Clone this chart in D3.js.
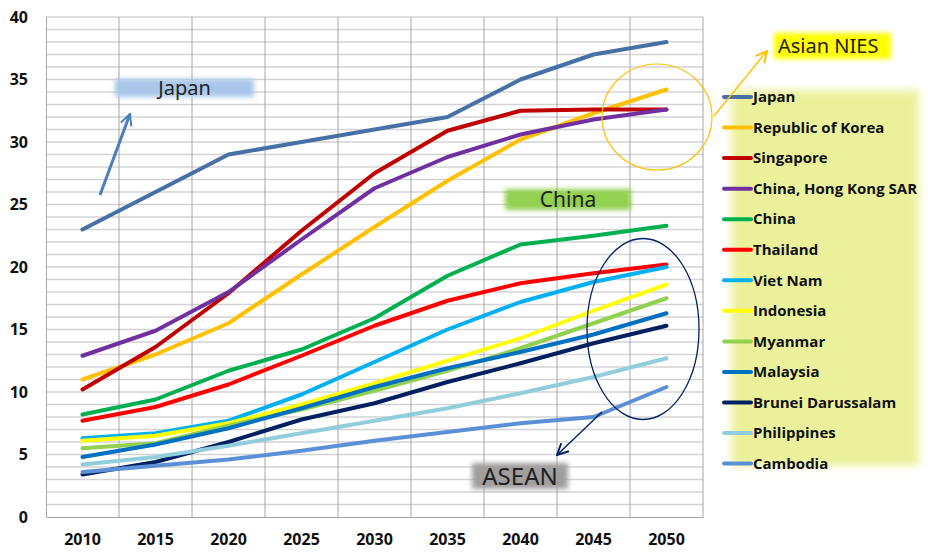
<!DOCTYPE html>
<html><head><meta charset="utf-8">
<script src="https://cdn.jsdelivr.net/npm/d3@7"></script>
<style>body{margin:0;background:#fff}svg{display:block}</style>
</head><body>
<svg id="c" width="928" height="552"></svg>
<script>
const years = ["2010","2015","2020","2025","2030","2035","2040","2045","2050"];
const yTicks = [0,5,10,15,20,25,30,35,40];
const seriesNames = ["Japan","Republic of Korea","Singapore","China, Hong Kong SAR","China","Thailand","Viet Nam","Indonesia","Myanmar","Malaysia","Brunei Darussalam","Philippines","Cambodia"];
const seriesColors = ["#4670a6","#ffc000","#c00000","#7030a0","#00b050","#ff0000","#00b0f0","#ffff00","#92d050","#0070c0","#002060","#92cddc","#5b8fd6"];
const japan = [23, 26, 29, 30, 31, 32, 35, 37, 38];
const korea = [11, 13, 15.5, 19.4, 23.2, 26.9, 30.2, 32.3, 34.2];
const singapore = [10.2, 13.6, 17.9, 22.9, 27.5, 30.9, 32.5, 32.6, 32.6];
const hongKong = [12.9, 14.9, 18.0, 22.2, 26.3, 28.8, 30.6, 31.8, 32.6];
const china = [8.2, 9.4, 11.7, 13.4, 15.9, 19.3, 21.8, 22.5, 23.3];
const thailand = [7.7, 8.8, 10.6, 12.9, 15.3, 17.3, 18.7, 19.5, 20.2];
const vietNam = [6.3, 6.7, 7.7, 9.8, 12.4, 15.0, 17.2, 18.8, 20.0];
const indonesia = [6.1, 6.5, 7.5, 9.0, 10.7, 12.5, 14.3, 16.5, 18.6];
const myanmar = [5.5, 5.9, 7.3, 8.6, 10.1, 11.7, 13.5, 15.5, 17.5];
const malaysia = [4.8, 5.8, 7.1, 8.7, 10.4, 11.9, 13.2, 14.6, 16.3];
const brunei = [3.4, 4.4, 6.0, 7.8, 9.1, 10.8, 12.3, 13.9, 15.3];
const philippines = [4.2, 4.8, 5.7, 6.7, 7.7, 8.7, 9.9, 11.2, 12.7];
const cambodia = [3.6, 4.1, 4.6, 5.3, 6.1, 6.8, 7.5, 8.0, 10.4];
const seriesValues = [japan, korea, singapore, hongKong, china, thailand, vietNam, indonesia, myanmar, malaysia, brunei, philippines, cambodia];

const svg = d3.select("#c");
const pLeft = 46, pRight = 703, pTop = 17, pBottom = 517;
const x = d3.scaleBand().domain(years).range([pLeft, pRight]);
const y = d3.scaleLinear().domain([0, 40]).range([pBottom, pTop]);

const defs = svg.append("defs");
defs.append("filter").attr("id","blur").attr("x","-20%").attr("y","-30%").attr("width","140%").attr("height","160%")
  .append("feGaussianBlur").attr("stdDeviation", 2.5);
defs.append("filter").attr("id","blurL").attr("x","-10%").attr("y","-10%").attr("width","120%").attr("height","120%")
  .append("feGaussianBlur").attr("stdDeviation", 4);
function marker(id, color){
  defs.append("marker").attr("id", id).attr("viewBox","0 0 10 10").attr("refX",9).attr("refY",5)
    .attr("orient","auto").attr("markerUnits","userSpaceOnUse")
    .attr("markerWidth",14).attr("markerHeight",14)
    .append("path").attr("d","M1,1 L9,5 L1,9").attr("fill","none").attr("stroke",color).attr("stroke-width",1.4);
}
marker("aJ","#4a7ebb"); marker("aO","#ffc000"); marker("aN","#002060");

// legend background
svg.append("rect").attr("x",731).attr("y",90).attr("width",188).attr("height",376)
  .attr("fill","#ebf19b").attr("filter","url(#blurL)");

// horizontal gridlines
const g = svg.append("g");
g.selectAll(".hg").data(d3.range(1, 41)).join("line")
  .attr("x1", pLeft).attr("x2", pRight).attr("y1", d => y(d)).attr("y2", d => y(d))
  .attr("stroke", "#d3d3d3").attr("stroke-width", 1.7);
// vertical gridlines at band boundaries
g.selectAll(".vg").data(years).join("line")
  .attr("x1", (d,i) => pLeft + x.step()*(i+1)).attr("x2", (d,i) => pLeft + x.step()*(i+1))
  .attr("y1", pTop).attr("y2", pBottom).attr("stroke", "#a6a6a6").attr("stroke-width", 1);

// axes
const yAxis = svg.append("g").attr("transform", `translate(${pLeft},0)`)
  .call(d3.axisLeft(y).tickValues(yTicks).tickSize(0).tickPadding(18));
yAxis.select(".domain").attr("stroke","#a6a6a6");
yAxis.selectAll("text").attr("font-family","'Open Sans', sans-serif").attr("font-weight","bold").attr("font-size",16).attr("fill","#111");
const xAxis = svg.append("g").attr("transform", `translate(0,${pBottom})`)
  .call(d3.axisBottom(x).tickSize(0).tickPadding(17));
xAxis.select(".domain").attr("stroke","#a6a6a6");
xAxis.selectAll("text").attr("font-family","'Open Sans', sans-serif").attr("font-weight","bold").attr("font-size",16).attr("fill","#111");

// lines
const line = d3.line().x((d,i) => x(years[i]) + x.bandwidth()/2).y(d => y(d));
svg.append("g").selectAll("path").data(seriesValues).join("path")
  .attr("d", line).attr("fill","none").attr("stroke", (d,i) => seriesColors[i])
  .attr("stroke-width", 4).attr("stroke-linecap","round").attr("stroke-linejoin","round");

// legend
const lg = svg.append("g");
seriesNames.forEach((n, i) => {
  const yy = 97 + i * 30.55;
  lg.append("line").attr("x1",724).attr("x2",751).attr("y1",yy).attr("y2",yy)
    .attr("stroke",seriesColors[i]).attr("stroke-width",4).attr("stroke-linecap","round");
  lg.append("text").attr("x",753).attr("y",yy).attr("dy","0.35em").text(n)
    .attr("font-family","'Open Sans', sans-serif").attr("font-weight","bold").attr("font-size",15).attr("fill","#111");
});

// annotations
function label(x0, y0, w, h, fill, txt, fs, tx){
  svg.append("rect").attr("x",x0).attr("y",y0).attr("width",w).attr("height",h).attr("fill",fill).attr("filter","url(#blur)");
  svg.append("text").attr("x", tx === undefined ? x0 + w/2 : tx).attr("y", y0 + h/2).attr("dy","0.36em")
    .attr("text-anchor", tx === undefined ? "middle" : "start")
    .attr("font-family","'Noto Sans', sans-serif").attr("font-size",fs).attr("fill","#222").text(txt);
}
label(115, 79, 139, 18, "#a9c7ea", "Japan", 20);
label(505, 189, 126, 21, "#92d050", "China", 21);
label(472, 463, 96, 26, "#a09e9e", "ASEAN", 24);
label(774, 33, 117, 26, "#ffff00", "Asian NIES", 20, 778);

svg.append("line").attr("x1",100).attr("y1",195).attr("x2",130).attr("y2",114)
  .attr("stroke","#4a7ebb").attr("stroke-width",3).attr("marker-end","url(#aJ)");
svg.append("ellipse").attr("cx",657).attr("cy",117).attr("rx",55).attr("ry",53)
  .attr("fill","none").attr("stroke","#ffc000").attr("stroke-width",1.2);
svg.append("line").attr("x1",714).attr("y1",116).attr("x2",767).attr("y2",51)
  .attr("stroke","#ffc000").attr("stroke-width",1.4).attr("marker-end","url(#aO)");
svg.append("ellipse").attr("cx",643).attr("cy",329).attr("rx",56).attr("ry",90.5)
  .attr("fill","none").attr("stroke","#002060").attr("stroke-width",1.3);
svg.append("line").attr("x1",602).attr("y1",412).attr("x2",557).attr("y2",455)
  .attr("stroke","#002060").attr("stroke-width",1.4).attr("marker-end","url(#aN)");
</script>
</body></html>
